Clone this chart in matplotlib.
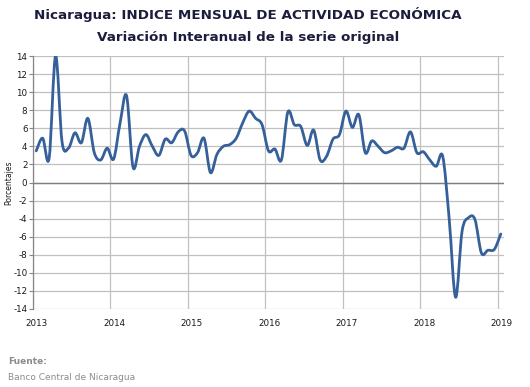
import matplotlib
matplotlib.use('Agg')
import matplotlib.pyplot as plt
import matplotlib.transforms as mtransforms
from matplotlib.path import Path
from matplotlib.patches import PathPatch
import numpy as np

# Variacion interanual IMAE, monthly Jan 2013 .. Jan 2019
values = [3.5, 4.9, 2.7, 14.0, 4.5, 3.8, 5.5, 4.4, 7.1, 3.3, 2.5, 3.8,
          2.6, 6.6, 9.6, 1.7, 4.0, 5.3, 4.0, 3.0, 4.8, 4.4, 5.6, 5.7,
          3.0, 3.3, 4.9, 1.1, 3.1, 4.0, 4.2, 4.9, 6.6, 7.9, 7.1, 6.4,
          3.5, 3.7, 2.5, 7.8, 6.4, 6.2, 4.1, 5.8, 2.5, 2.9, 4.8, 5.3,
          7.9, 6.1, 7.5, 3.3, 4.6, 4.0, 3.3, 3.5, 3.9, 3.8, 5.6, 3.3,
          3.4, 2.5, 1.8, 2.9, -4.0, -12.7, -5.4, -3.9, -4.1, -7.8, -7.5, -7.4,
          -5.7]
years = ['2013', '2014', '2015', '2016', '2017', '2018', '2019']
yticks = list(range(-14, 15, 2))

title1 = 'Nicaragua: INDICE MENSUAL DE ACTIVIDAD ECONÓMICA'
title2 = 'Variación Interanual de la serie original'

#==============================================================================
def smoothPath(x, y):
    '''
    Excel-like smoothed line: cubic bezier through every point
    '''
    pts = np.column_stack([x, y])
    n = len(pts)
    verts = [pts[0]]
    codes = [Path.MOVETO]
    for i in range(n - 1):
        p0 = pts[max(i - 1, 0)]
        p1 = pts[i]
        p2 = pts[i + 1]
        p3 = pts[min(i + 2, n - 1)]
        c1 = p1 + (p2 - p0) / 6.0
        c2 = p2 - (p3 - p1) / 6.0
        verts += [c1, c2, p2]
        codes += [Path.CURVE4] * 3
    return Path(verts, codes)

#==============================================================================
W, H = 530, 387
fig = plt.figure(figsize=(W / 100, H / 100), dpi=100)
ax = fig.add_axes([33 / W, 1 - 309 / H, 471 / W, 253 / H])

xm = np.arange(len(values)) + 0.5
line = PathPatch(smoothPath(xm, values), facecolor='none',
                 edgecolor='#35609a', lw=2.0, capstyle='round',
                 joinstyle='round', zorder=3)
ax.add_patch(line)

ax.set_xlim(0, 73)
ax.set_ylim(-14, 14)
ax.set_yticks(yticks)
ax.set_yticklabels([str(v) for v in yticks])
ax.set_xticks(np.arange(len(years)) * 12)
ax.set_xticklabels(years)
ax.tick_params(axis='y', labelsize=6.3, length=3, width=0.8,
               color='#868686', pad=1, labelcolor='#1a1a1a')
ax.tick_params(axis='x', labelsize=6.3, length=0, pad=7,
               labelcolor='#1a1a1a')
shift = mtransforms.ScaledTranslation(4 / 100, 0, fig.dpi_scale_trans)
for lab in ax.get_xticklabels():
    lab.set_transform(lab.get_transform() + shift)

ax.grid(True, color='#c0c0c0', lw=0.9)
ax.set_axisbelow(True)
ax.axhline(0, color='#808080', lw=1.0, zorder=2)
for s in ['top', 'right', 'bottom']:
    ax.spines[s].set_visible(False)
ax.spines['left'].set_color('#868686')
ax.spines['left'].set_linewidth(0.9)

ax.set_ylabel('Porcentajes', fontsize=5.5, color='#1a1a1a')
ax.yaxis.set_label_coords((13 - 33) / 471, 0.5)

fig.text(248 / W, 1 - 14 / H, title1, ha='center', va='center',
         fontsize=9.7, weight='bold', color='#1c1c3c')
fig.text(248 / W, 1 - 37 / H, title2, ha='center', va='center',
         fontsize=9.7, weight='bold', color='#1c1c3c')

fig.text(8 / W, 1 - 362 / H, 'Fuente:', ha='left', va='center',
         fontsize=6.5, weight='bold', color='#8c8c8c')
fig.text(8 / W, 1 - 377 / H, 'Banco Central de Nicaragua', ha='left',
         va='center', fontsize=6.5, color='#8c8c8c')

plt.savefig('out.png', dpi=100)
plt.close(fig)
